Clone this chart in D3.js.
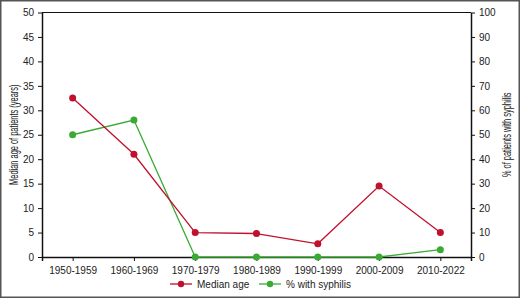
<!DOCTYPE html>
<html>
<head>
<meta charset="utf-8">
<script src="https://cdn.jsdelivr.net/npm/d3@7"></script>
<style>
body { margin: 0; background: #fff; }
svg { display: block; }
.axis text { font-family: "Liberation Sans", Arial, sans-serif; font-size: 10px; fill: #222; }
.axis path, .axis line { stroke: #111; }
.title { font-family: "Liberation Sans Narrow", "Liberation Sans", sans-serif; font-size: 12px; fill: #222; }
.legend text { font-family: "Liberation Sans", Arial, sans-serif; font-size: 10px; fill: #222; }
</style>
</head>
<body>
<div id="chart-area"></div>
<script>
var decades = ["1950-1959","1960-1969","1970-1979","1980-1989","1990-1999","2000-2009","2010-2022"];
var medianAge = [32.5, 21, 5, 4.8, 2.7, 14.5, 5];
var pctSyphilis = [50, 56, 0, 0, 0, 0, 3];
var leftTicks = [0,5,10,15,20,25,30,35,40,45,50];
var rightTicks = [0,10,20,30,40,50,60,70,80,90,100];

var red = "#c0102e", green = "#3aaa35";

var W = 520, H = 298;
var margin = {left:42, right:49, top:12.5, bottom:41};
var width = W - margin.left - margin.right;
var height = H - margin.top - margin.bottom;

var svg = d3.select("#chart-area").append("svg")
	.attr("width", W)
	.attr("height", H);

// outer frame
svg.append("rect")
	.attr("x", 0.75).attr("y", 0.75)
	.attr("width", W - 1.5).attr("height", H - 1.5)
	.attr("fill", "none")
	.attr("stroke", "#555")
	.attr("stroke-width", 1.5);

var g = svg.append("g")
	.attr("transform", "translate(" + margin.left + "," + margin.top + ")");

var x = d3.scalePoint()
	.domain(decades)
	.range([0, width])
	.padding(0.5);

var yL = d3.scaleLinear().domain([0, 50]).range([height, 0]);
var yR = d3.scaleLinear().domain([0, 100]).range([height, 0]);

// top border of plot
g.append("line")
	.attr("x1", 0).attr("x2", width)
	.attr("y1", 0).attr("y2", 0)
	.attr("stroke", "#111");

g.append("g")
	.attr("class", "x axis")
	.attr("transform", "translate(0," + height + ")")
	.call(d3.axisBottom(x).tickSizeOuter(0).tickSize(4).tickPadding(6))
	.select(".domain").attr("stroke-width", 1.5);

g.append("g")
	.attr("class", "y axis")
	.call(d3.axisLeft(yL).tickValues(leftTicks).tickSize(4).tickSizeOuter(0).tickPadding(4))
	.select(".domain").attr("stroke-width", 1.5);

g.append("g")
	.attr("class", "y axis")
	.attr("transform", "translate(" + width + ",0)")
	.call(d3.axisRight(yR).tickValues(rightTicks).tickSize(4).tickSizeOuter(0).tickPadding(4))
	.select(".domain").attr("stroke-width", 1.5);

// condensed axis titles
g.append("text")
	.attr("class", "title")
	.attr("transform", "translate(" + (14 - margin.left) + "," + (height / 2) + ") rotate(-90) scale(0.62,1)")
	.attr("text-anchor", "middle")
	.attr("dy", "0.35em")
	.text("Median age of patients (years)");

g.append("text")
	.attr("class", "title")
	.attr("transform", "translate(" + (width + 36) + "," + (height / 2) + ") rotate(-90) scale(0.62,1)")
	.attr("text-anchor", "middle")
	.attr("dy", "0.35em")
	.text("% of patients with syphilis");

var lineL = d3.line()
	.x(function(d, i){ return x(decades[i]); })
	.y(function(d){ return yL(d); });
var lineR = d3.line()
	.x(function(d, i){ return x(decades[i]); })
	.y(function(d){ return yR(d); });

g.append("path")
	.attr("d", lineR(pctSyphilis))
	.attr("fill", "none")
	.attr("stroke", green)
	.attr("stroke-width", 1.3);

g.append("path")
	.attr("d", lineL(medianAge))
	.attr("fill", "none")
	.attr("stroke", red)
	.attr("stroke-width", 1.3);

g.selectAll(".dotR")
	.data(pctSyphilis)
	.enter().append("circle")
		.attr("cx", function(d, i){ return x(decades[i]); })
		.attr("cy", function(d){ return yR(d); })
		.attr("r", 3.5)
		.attr("fill", green);

g.selectAll(".dotL")
	.data(medianAge)
	.enter().append("circle")
		.attr("cx", function(d, i){ return x(decades[i]); })
		.attr("cy", function(d){ return yL(d); })
		.attr("r", 3.5)
		.attr("fill", red);

// legend
var legendItems = [{label:"Median age", color:red, x:170}, {label:"% with syphilis", color:green, x:259}];
var leg = svg.append("g").attr("class", "legend");
var li = leg.selectAll("g")
	.data(legendItems)
	.enter().append("g")
		.attr("transform", function(d){ return "translate(" + d.x + ",284)"; });
li.append("line")
	.attr("x1", 0).attr("x2", 22)
	.attr("stroke", function(d){ return d.color; })
	.attr("stroke-width", 1.3);
li.append("circle")
	.attr("cx", 11).attr("r", 3.2)
	.attr("fill", function(d){ return d.color; });
li.append("text")
	.attr("x", 27)
	.attr("dy", "0.35em")
	.text(function(d){ return d.label; });
</script>
</body>
</html>
